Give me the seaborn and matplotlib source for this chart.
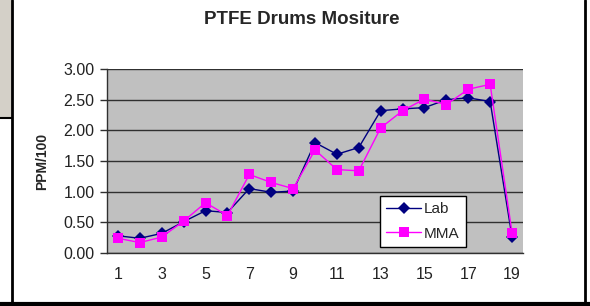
import numpy as np
import pandas as pd
import matplotlib
matplotlib.use("Agg")
import matplotlib.pyplot as plt
from matplotlib.ticker import FixedLocator, FormatStrFormatter
import seaborn as sns

# data
drum = list(range(1, 20))
lab = [0.28, 0.24, 0.32, 0.51, 0.69, 0.66, 1.05, 0.99, 1.01, 1.80, 1.61, 1.72,
       2.32, 2.35, 2.37, 2.50, 2.53, 2.47, 0.26]
mma = [0.24, 0.17, 0.26, 0.52, 0.82, 0.61, 1.28, 1.15, 1.05, 1.68, 1.36, 1.34,
       2.04, 2.32, 2.51, 2.42, 2.67, 2.75, 0.33]
series_names = ["Lab", "MMA"]
x_labels = [str(d) for d in drum if d % 2 == 1]

COLORS = {"Lab": "#000080", "MMA": "#FF00FF"}

sns.set_theme(style="white")
plt.rcParams["font.family"] = ["Liberation Sans", "DejaVu Sans"]

df = pd.DataFrame({
    "drum": drum * 2,
    "ppm": lab + mma,
    "series": ["Lab"] * len(lab) + ["MMA"] * len(mma),
})

fig = plt.figure(figsize=(5.9, 3.06), dpi=100)
fig.patch.set_facecolor("white")

# leftover screenshot frame bits
fig.patches.append(plt.Rectangle((0, 1 - 118 / 306), 12 / 590, 118 / 306,
                                 transform=fig.transFigure, facecolor="#D4D0C8",
                                 edgecolor="none", zorder=0))
fig.add_artist(plt.Line2D([12 / 590, 12 / 590], [0, 1], transform=fig.transFigure,
                          color="black", lw=2))
fig.add_artist(plt.Line2D([0, 12 / 590], [1 - 118 / 306] * 2, transform=fig.transFigure,
                          color="black", lw=1.5))
fig.add_artist(plt.Line2D([585 / 590] * 2, [0, 1], transform=fig.transFigure,
                          color="black", lw=2))
fig.add_artist(plt.Line2D([0, 1], [2 / 306] * 2, transform=fig.transFigure,
                          color="black", lw=3))

ax = fig.add_axes([107 / 590, 1 - 253 / 306, 416 / 590, 184 / 306])
ax.set_facecolor("#C0C0C0")

sns.lineplot(data=df, x="drum", y="ppm", hue="series", style="series",
             hue_order=series_names, style_order=series_names,
             palette=COLORS, markers={"Lab": "D", "MMA": "s"}, dashes=False,
             markersize=6, linewidth=1, markeredgewidth=0, ax=ax, zorder=3)
for line in ax.lines:
    if line.get_marker() == "s":
        line.set_markersize(7)

ax.set_xlim(0.5, 19.5)
ax.set_ylim(0, 3.0)
ax.set_yticks(np.arange(0, 3.01, 0.5))
ax.yaxis.set_major_formatter(FormatStrFormatter("%.2f"))
ax.yaxis.grid(True, color="#303030", linewidth=1)
ax.set_axisbelow(True)

ax.xaxis.set_major_locator(FixedLocator([int(v) for v in x_labels]))
ax.set_xticklabels(x_labels)
ax.xaxis.set_minor_locator(FixedLocator(np.arange(0.5, 19.6, 1)))
ax.tick_params(axis="x", which="major", length=0, pad=10, labelsize=11.5, colors="#222222")
ax.tick_params(axis="x", which="minor", length=5, width=1, color="#303030", direction="out")
ax.tick_params(axis="y", which="major", length=5, width=1, color="#303030",
               direction="out", left=True, labelsize=11.5, pad=4, labelcolor="#222222")

for s in ["top", "right"]:
    ax.spines[s].set_visible(False)
for s in ["left", "bottom"]:
    ax.spines[s].set_color("#303030")
    ax.spines[s].set_linewidth(1)

ax.set_xlabel("")
ax.set_ylabel("PPM/100", fontsize=10, fontweight="bold", labelpad=10)

leg = ax.legend(loc="lower left", bbox_to_anchor=(0.656, 0.033),
                frameon=True, fancybox=False, fontsize=11,
                handlelength=2.3, handletextpad=0.2, borderpad=0.4,
                labelspacing=0.7, borderaxespad=0)
leg.get_frame().set_edgecolor("black")
leg.get_frame().set_facecolor("white")
leg.get_frame().set_linewidth(1)
leg.get_frame().set_alpha(1)

fig.text(302 / 590, 1 - 20 / 306, "PTFE Drums Mositure", ha="center", va="center",
         fontsize=13.5, fontweight="bold")

fig.savefig("out.png", dpi=100)
